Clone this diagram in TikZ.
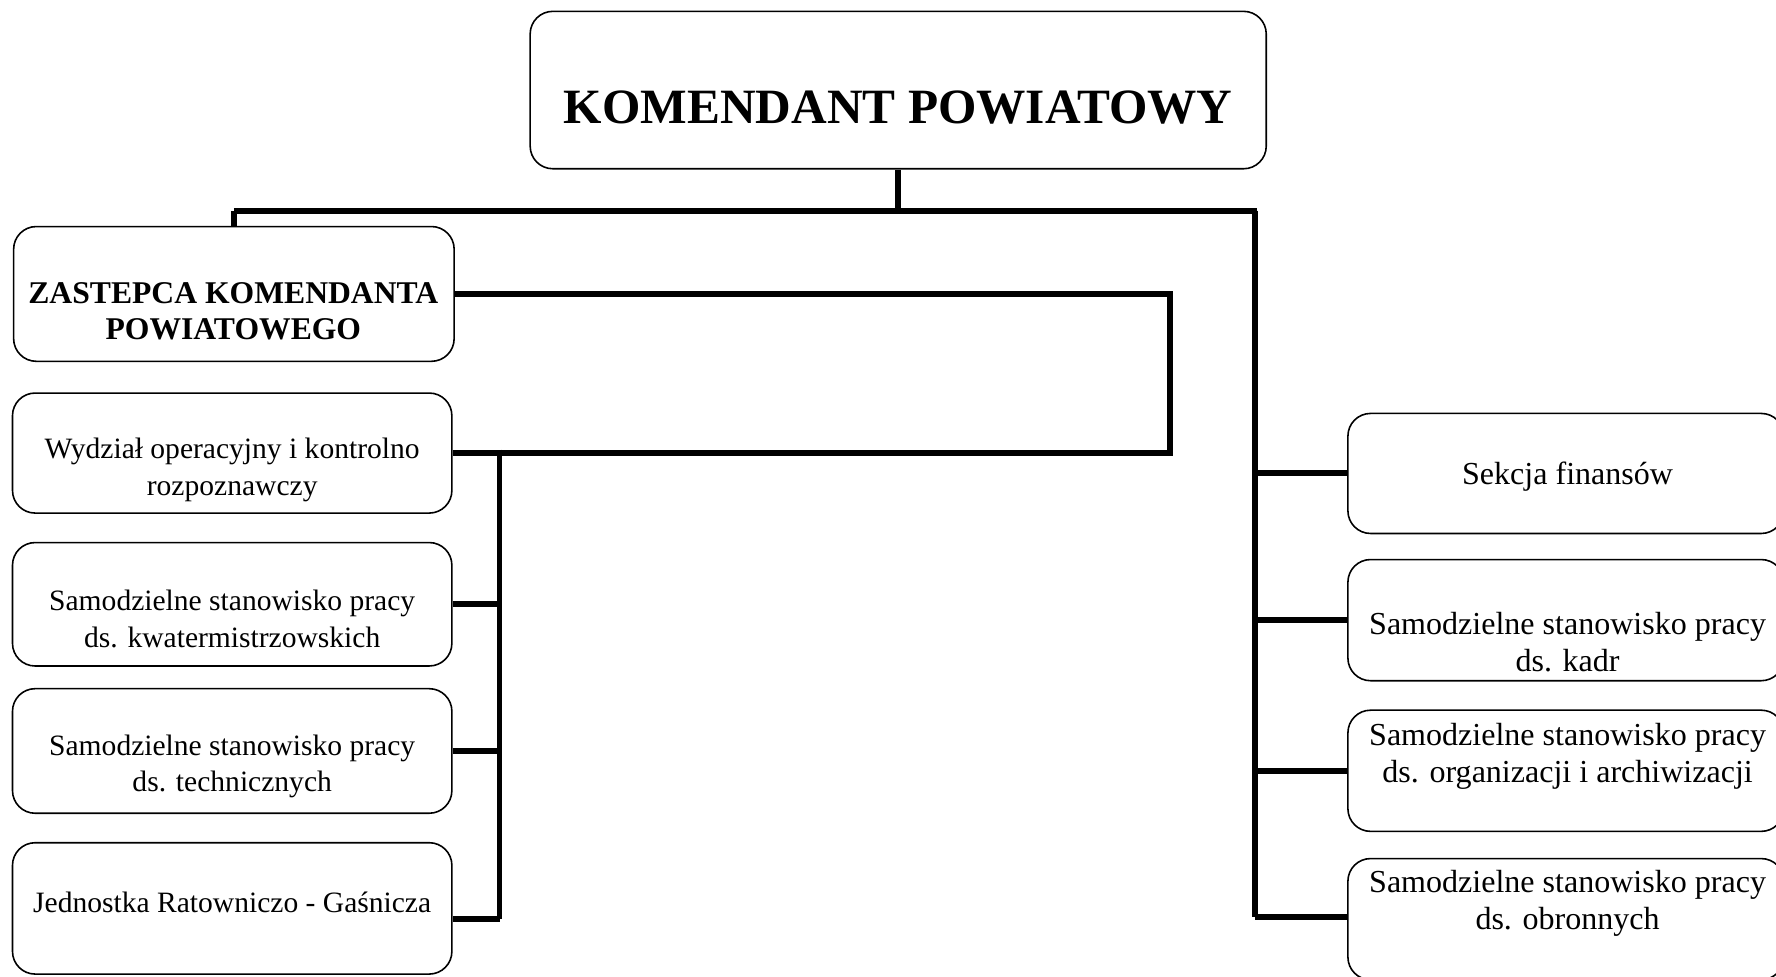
\documentclass[tikz,border=0pt]{standalone}
\usepackage{fontspec}
\setmainfont{Liberation Serif}
\usetikzlibrary{positioning}

\begin{document}
\begin{tikzpicture}[x=0.02cm, y=-0.02cm,
  box/.style={draw, rounded corners=0.4cm, line width=0.8pt, inner sep=0pt},
  txt/.style={align=center, inner sep=0pt, font=\fontsize{14.85}{18.3}\selectfont},
  rtxt/.style={align=center, inner sep=0pt, font=\fontsize{16.1}{18.8}\selectfont},
  link/.style={line width=3pt},
  stem/.style={line width=2.8pt}]
  \useasboundingbox (0,0) rectangle (1568,862);

  % boxes
  \node[box, minimum width=13cm, minimum height=2.78cm] (Komendant) at (793,79.5) {};
  \node[box, minimum width=7.78cm, minimum height=2.38cm] (Zastepca) at (206.5,259.5) {};
  \node[box, minimum width=7.76cm, minimum height=2.12cm] (Wydzial) at (205,400) {};
  \node[box, minimum width=7.76cm, minimum height=2.18cm] (Kwater) at (205,533.5) {};
  \node[box, minimum width=7.76cm, minimum height=2.2cm] (Techn) at (205,663) {};
  \node[box, minimum width=7.76cm, minimum height=2.32cm] (Jednostka) at (205,802) {};
  \node[box, minimum width=7.7cm, minimum height=2.12cm] (Finanse) at (1382.5,418) {};
  \node[box, minimum width=7.7cm, minimum height=2.14cm] (Kadry) at (1382.5,547.5) {};
  \node[box, minimum width=7.7cm, minimum height=2.14cm] (Archiwum) at (1382.5,680.5) {};
  \node[box, minimum width=7.7cm, minimum height=2.14cm] (Obrona) at (1382.5,811.5) {};

  % texts
  \node[align=center, inner sep=0pt, font=\fontsize{24.8}{28}\selectfont\bfseries] (KomendantText) at (793,95) {KOMENDANT POWIATOWY};
  \node[align=center, inner sep=0pt, font=\fontsize{15.9}{18.3}\selectfont\bfseries] (ZastepcaText) at (206,275) {ZASTEPCA KOMENDANTA\\POWIATOWEGO};
  \node[txt] (WydzialText) at (205,415) {Wydział operacyjny i kontrolno\\rozpoznawczy};
  \node[txt] (KwaterText) at (205,546.5) {Samodzielne stanowisko pracy\\ds. kwatermistrzowskich};
  \node[txt] (TechnText) at (205,676.5) {Samodzielne stanowisko pracy\\ds. technicznych};
  \node[txt] (JednostkaText) at (205,797) {Jednostka Ratowniczo - Gaśnicza};
  \node[rtxt] (FinanseText) at (1384,421) {Sekcja finansów};
  \node[rtxt] (KadryText) at (1384,567) {Samodzielne stanowisko pracy\\ds. kadr};
  \node[rtxt] (ArchiwumText) at (1384,668) {Samodzielne stanowisko pracy\\ds. organizacji i archiwizacji};
  \node[rtxt] (ObronaText) at (1384,797.5) {Samodzielne stanowisko pracy\\ds. obronnych};

  % bus points
  \coordinate (TopBus) at (793,186);
  \coordinate (RightBus) at (1110,186);
  \coordinate (RightEnd) at (1108,810);
  \coordinate (Loop) at (1033,400);
  \coordinate (LeftBus) at (441,397);
  \coordinate (LeftEnd) at (441,811);

  % connectors
  \draw[stem] (Komendant.south) -- (TopBus);
  \draw[link] (Zastepca.north |- TopBus) -- (TopBus) -- (RightBus);
  \draw[stem] (Zastepca.north |- TopBus) -- (Zastepca.north);
  \draw[stem] (RightBus -| RightEnd) -- (RightEnd);
  \draw[link] (RightEnd |- Finanse.west) -- (Finanse.west);
  \draw[link] (RightEnd |- Kadry.west) -- (Kadry.west);
  \draw[link] (RightEnd |- Archiwum.west) -- (Archiwum.west);
  \draw[link] (RightEnd) -- (RightEnd -| Obrona.west);
  \draw[link] (Zastepca.east) -| (Loop) -- (Wydzial.east);
  \draw[stem] (LeftBus) -- (LeftEnd);
  \draw[link] (Kwater.east) -- (LeftBus |- Kwater.east);
  \draw[link] (Techn.east) -- (LeftBus |- Techn.east);
  \draw[link] (LeftEnd) -- (LeftEnd -| Jednostka.east);
\end{tikzpicture}
\end{document}
